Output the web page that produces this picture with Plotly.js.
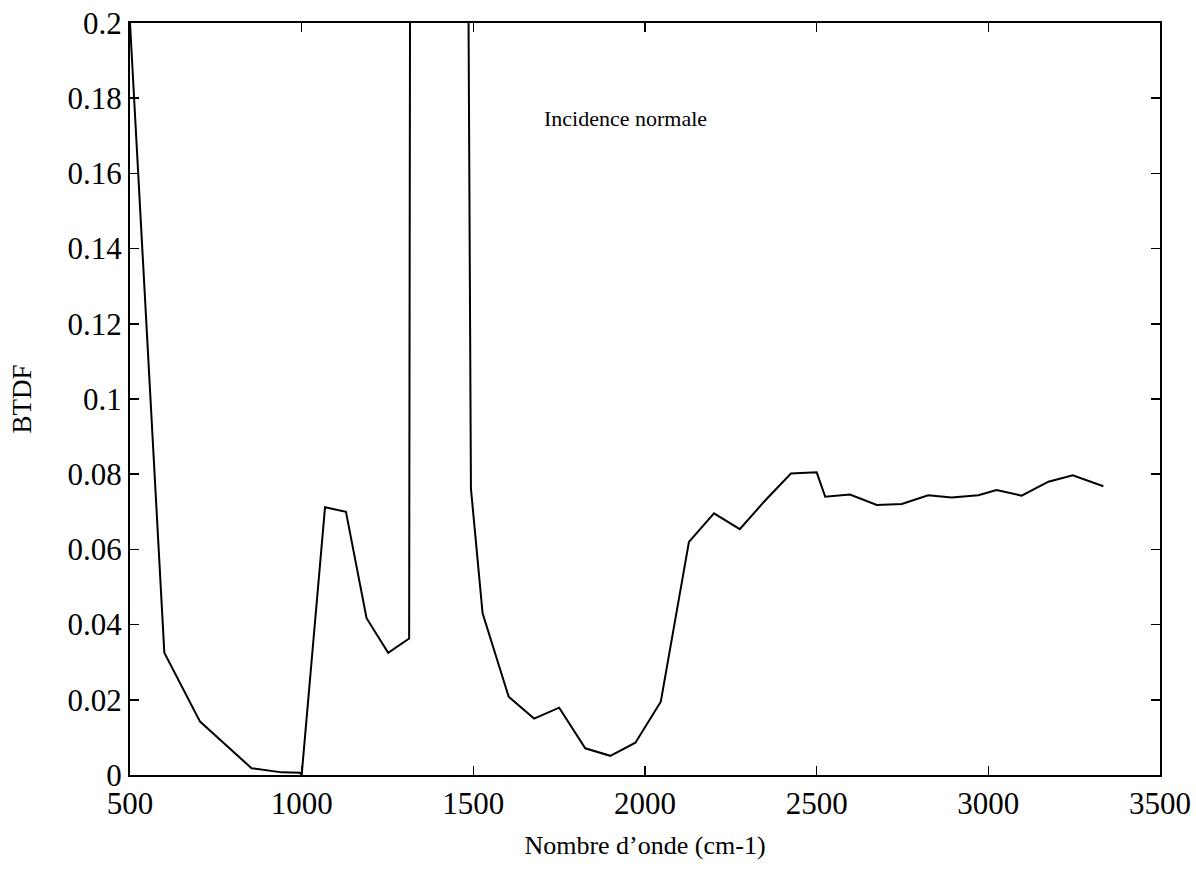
<!DOCTYPE html>
<html>
<head>
<meta charset="utf-8">
<script src="https://cdn.plot.ly/plotly-3.0.1.min.js"></script>
<style>
  html, body { margin: 0; padding: 0; background: #ffffff; }
  #chart { width: 1196px; height: 881px; }
</style>
</head>
<body>
<div id="chart"></div>
<script>
// Wavenumber (cm-1) and BTDF values
var wavenumber = [500, 600, 704, 854, 942, 995, 1000, 1068, 1129, 1189, 1252, 1313, 1375, 1430, 1493, 1527, 1603, 1677, 1750, 1826, 1899, 1972, 2046, 2128, 2201, 2276, 2350, 2425, 2500, 2525, 2597, 2675, 2748, 2825, 2893, 2971, 3024, 3097, 3175, 3246, 3335];
var btdf = [0.2, 0.0325, 0.0142, 0.0018, 0.0007, 0.0006, 0.0, 0.0712, 0.0700, 0.0417, 0.0325, 0.0363, 4.0, 1.2, 0.0762, 0.0430, 0.0208, 0.0150, 0.0179, 0.0071, 0.0051, 0.0086, 0.0195, 0.0620, 0.0696, 0.0654, 0.0730, 0.0802, 0.0805, 0.0740, 0.0746, 0.0718, 0.0721, 0.0744, 0.0738, 0.0744, 0.0758, 0.0743, 0.0780, 0.0797, 0.0768];

var xTicks = [500, 1000, 1500, 2000, 2500, 3000, 3500];
var yTicks = [0, 0.02, 0.04, 0.06, 0.08, 0.1, 0.12, 0.14, 0.16, 0.18, 0.2];
var yTickLabels = ["0", "0.02", "0.04", "0.06", "0.08", "0.1", "0.12", "0.14", "0.16", "0.18", "0.2"];

var annotationText = "Incidence normale";
var xTitle = "Nombre d\u2019onde (cm-1)";
var yTitle = "BTDF";

var FONT = "Liberation Serif, Times New Roman, serif";

var trace = {
  x: wavenumber,
  y: btdf,
  type: "scatter",
  mode: "lines",
  line: { color: "#000000", width: 2 },
  hoverinfo: "x+y",
  showlegend: false
};

var layout = {
  width: 1196,
  height: 881,
  paper_bgcolor: "#ffffff",
  plot_bgcolor: "#ffffff",
  margin: { l: 130, r: 36, t: 23, b: 106, pad: 0 },
  font: { family: FONT, color: "#000000", size: 24 },
  xaxis: {
    range: [500, 3500],
    tickvals: xTicks,
    ticktext: xTicks.map(String),
    ticks: "inside",
    ticklen: 9,
    tickwidth: 1.5,
    tickcolor: "#000000",
    showline: true,
    linecolor: "#000000",
    linewidth: 2,
    mirror: "allticks",
    showgrid: false,
    zeroline: false,
    ticklabelstandoff: 0,
    tickfont: { family: FONT, size: 31, color: "#000000" },
    title: { text: xTitle, font: { family: FONT, size: 26, color: "#000000" }, standoff: 16 },
    automargin: false
  },
  yaxis: {
    range: [0, 0.2],
    tickvals: yTicks,
    ticktext: yTickLabels,
    ticks: "inside",
    ticklen: 9,
    tickwidth: 1.5,
    tickcolor: "#000000",
    showline: true,
    linecolor: "#000000",
    linewidth: 2,
    mirror: "allticks",
    showgrid: false,
    zeroline: false,
    tickfont: { family: FONT, size: 31, color: "#000000" },
    title: { text: yTitle, font: { family: FONT, size: 27, color: "#000000" }, standoff: 28 },
    automargin: false
  },
  annotations: [{
    x: 1700, y: 0.1747,
    xref: "x", yref: "y",
    text: annotationText,
    showarrow: false,
    xanchor: "left",
    yanchor: "middle",
    font: { family: FONT, size: 22, color: "#000000" }
  }]
};

Plotly.newPlot("chart", [trace], layout, { displayModeBar: false, staticPlot: true });
</script>
</body>
</html>
